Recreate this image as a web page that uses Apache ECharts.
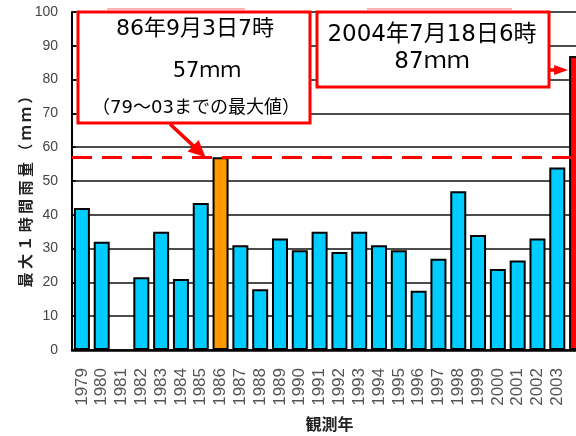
<!DOCTYPE html>
<html>
<head>
<meta charset="utf-8">
<script src="https://cdn.jsdelivr.net/npm/echarts@6/dist/echarts.min.js"></script>
<style>
  html, body { margin: 0; padding: 0; background: #fff; }
  #chart { width: 576px; height: 436px; }
</style>
</head>
<body>
<div id="chart"></div>
<script>
// Observation years and the maximum hourly rainfall (mm) for each year
const years = ['1979','1980','1981','1982','1983','1984','1985','1986','1987','1988',
               '1989','1990','1991','1992','1993','1994','1995','1996','1997','1998',
               '1999','2000','2001','2002','2003','2004'];
const maxHourlyRain = [42, 32, null, 21.5, 35, 21, 43.5, 57, 31, 18,
                       33, 29.5, 35, 29, 35, 31, 29.5, 17.5, 27, 47,
                       34, 24, 26.5, 33, 54, 87];
// Years that carry a tick label under the axis
const labeledYears = years.slice(0, 25);
const yTicks = [0, 10, 20, 30, 40, 50, 60, 70, 80, 90, 100];

// Previous record (1979–2003) and the new record
const prevRecordYear = '1986';
const prevRecordValue = 57;
const newRecordYear = '2004';
const newRecordValue = 87;

const yTitle = '最 大 １ 時 間 雨 量 （ ｍ ｍ ）';
const xTitle = '観測年';
const noteOld = ['86年9月3日7時', '57ｍｍ', '（79～03までの最大値）'];
const noteNew = ['2004年7月18日6時', '87ｍｍ'];

const COLOR_BAR = '#00CCFF';
const COLOR_OLD = '#FF9900';
const COLOR_NEW = '#FF0000';
const LABEL_FONT = '"Liberation Sans", Arial, sans-serif';
const BOX_FONT = '"DejaVu Sans", "Noto Sans CJK JP", sans-serif';
const CJK = '"Noto Sans CJK JP", sans-serif';

const chart = echarts.init(document.getElementById('chart'), null, { renderer: 'canvas' });

chart.setOption({
  animation: false,
  backgroundColor: '#fff',
  grid: { left: 72, right: -11, top: 12, bottom: 86, containLabel: false, outerBoundsMode: 'none' },
  xAxis: {
    type: 'category',
    data: years,
    boundaryGap: true,
    axisLine: { lineStyle: { color: '#000', width: 2.5 } },
    axisTick: { show: false },
    axisLabel: {
      rotate: 90,
      margin: 18,
      interval: 0,
      color: '#555',
      fontSize: 17,
      fontFamily: LABEL_FONT,
      formatter: v => labeledYears.includes(v) ? v : ''
    },
    name: xTitle,
    nameLocation: 'middle',
    nameGap: 66,
    nameTextStyle: { fontFamily: CJK, fontSize: 16, fontWeight: 'bold', color: '#222' }
  },
  yAxis: {
    type: 'value',
    min: yTicks[0],
    max: yTicks[yTicks.length - 1],
    interval: yTicks[1] - yTicks[0],
    axisLine: { show: true, lineStyle: { color: '#000', width: 2 } },
    axisTick: { show: true, inside: true, length: 4, lineStyle: { color: '#000', width: 1.5 } },
    axisLabel: { margin: 14, color: '#444', fontSize: 14, fontFamily: LABEL_FONT },
    splitLine: { show: true, lineStyle: { color: '#111', width: 1.5 } }
  },
  series: [{
    type: 'bar',
    data: maxHourlyRain,
    barWidth: 16,
    itemStyle: {
      color: p => p.name === newRecordYear ? COLOR_NEW : (p.name === prevRecordYear ? COLOR_OLD : COLOR_BAR),
      borderColor: '#000',
      borderWidth: 2
    },
    markLine: {
      silent: true,
      symbol: ['none', 'none'],
      label: { show: false },
      lineStyle: { color: COLOR_NEW, width: 3, type: [20, 10] },
      data: [{ yAxis: prevRecordValue }]
    }
  }]
});

// Annotation boxes with arrows pointing at the two record bars
const toPx = (cat, val) => chart.convertToPixel({ xAxisIndex: 0, yAxisIndex: 0 }, [cat, val]);
const pOld = toPx(prevRecordYear, prevRecordValue);
const pNew = toPx(newRecordYear, newRecordValue);

function arrow(from, to, headLen, headHalf) {
  const dx = to[0] - from[0], dy = to[1] - from[1];
  const len = Math.hypot(dx, dy);
  const ux = dx / len, uy = dy / len;
  const bx = to[0] - ux * headLen, by = to[1] - uy * headLen;
  return [
    { type: 'line', z: 100, shape: { x1: from[0], y1: from[1], x2: bx + ux, y2: by + uy },
      style: { stroke: COLOR_NEW, lineWidth: 3.5 } },
    { type: 'polygon', z: 100, shape: { points: [
        [to[0], to[1]],
        [bx - uy * headHalf, by + ux * headHalf],
        [bx + uy * headHalf, by - ux * headHalf]
      ] }, style: { fill: COLOR_NEW } }
  ];
}

function label(text, x, y, size) {
  return { type: 'text', z: 101, x: x, y: y,
    style: { text: text, fill: '#000', font: size + 'px ' + BOX_FONT, align: 'center', verticalAlign: 'middle' } };
}

const graphics = [
  // vertical axis title, read bottom to top
  { type: 'text', z: 101, x: 25, y: 188, rotation: Math.PI / 2,
    style: { text: yTitle, fill: '#222', font: 'bold 15px ' + CJK, align: 'center', verticalAlign: 'middle' } },
  // faint top edges behind the boxes
  { type: 'line', z: 99, shape: { x1: 107, y1: 9, x2: 245, y2: 9 }, style: { stroke: '#ff9a9a', lineWidth: 1.5 } },
  { type: 'line', z: 99, shape: { x1: 367, y1: 9, x2: 512, y2: 9 }, style: { stroke: '#ff9a9a', lineWidth: 1.5 } },
  // box for the 1986 record
  { type: 'rect', z: 100, shape: { x: 78, y: 12, width: 232, height: 111 },
    style: { fill: '#fff', stroke: COLOR_NEW, lineWidth: 3 } },
  label(noteOld[0], 195, 29, 22),
  label(noteOld[1], 207, 72, 21),
  label(noteOld[2], 196, 108, 18),
  // box for the 2004 record
  { type: 'rect', z: 100, shape: { x: 317, y: 12, width: 232, height: 75 },
    style: { fill: '#fff', stroke: COLOR_NEW, lineWidth: 3 } },
  label(noteNew[0], 432, 35, 23),
  label(noteNew[1], 432, 62, 23)
].concat(
  arrow([170, 124], [pOld[0] - 15, pOld[1]], 17, 8),
  arrow([550, 70], [pNew[0] - 9, 70], 14, 5)
);

chart.setOption({ graphic: { elements: graphics } });
</script>
</body>
</html>
